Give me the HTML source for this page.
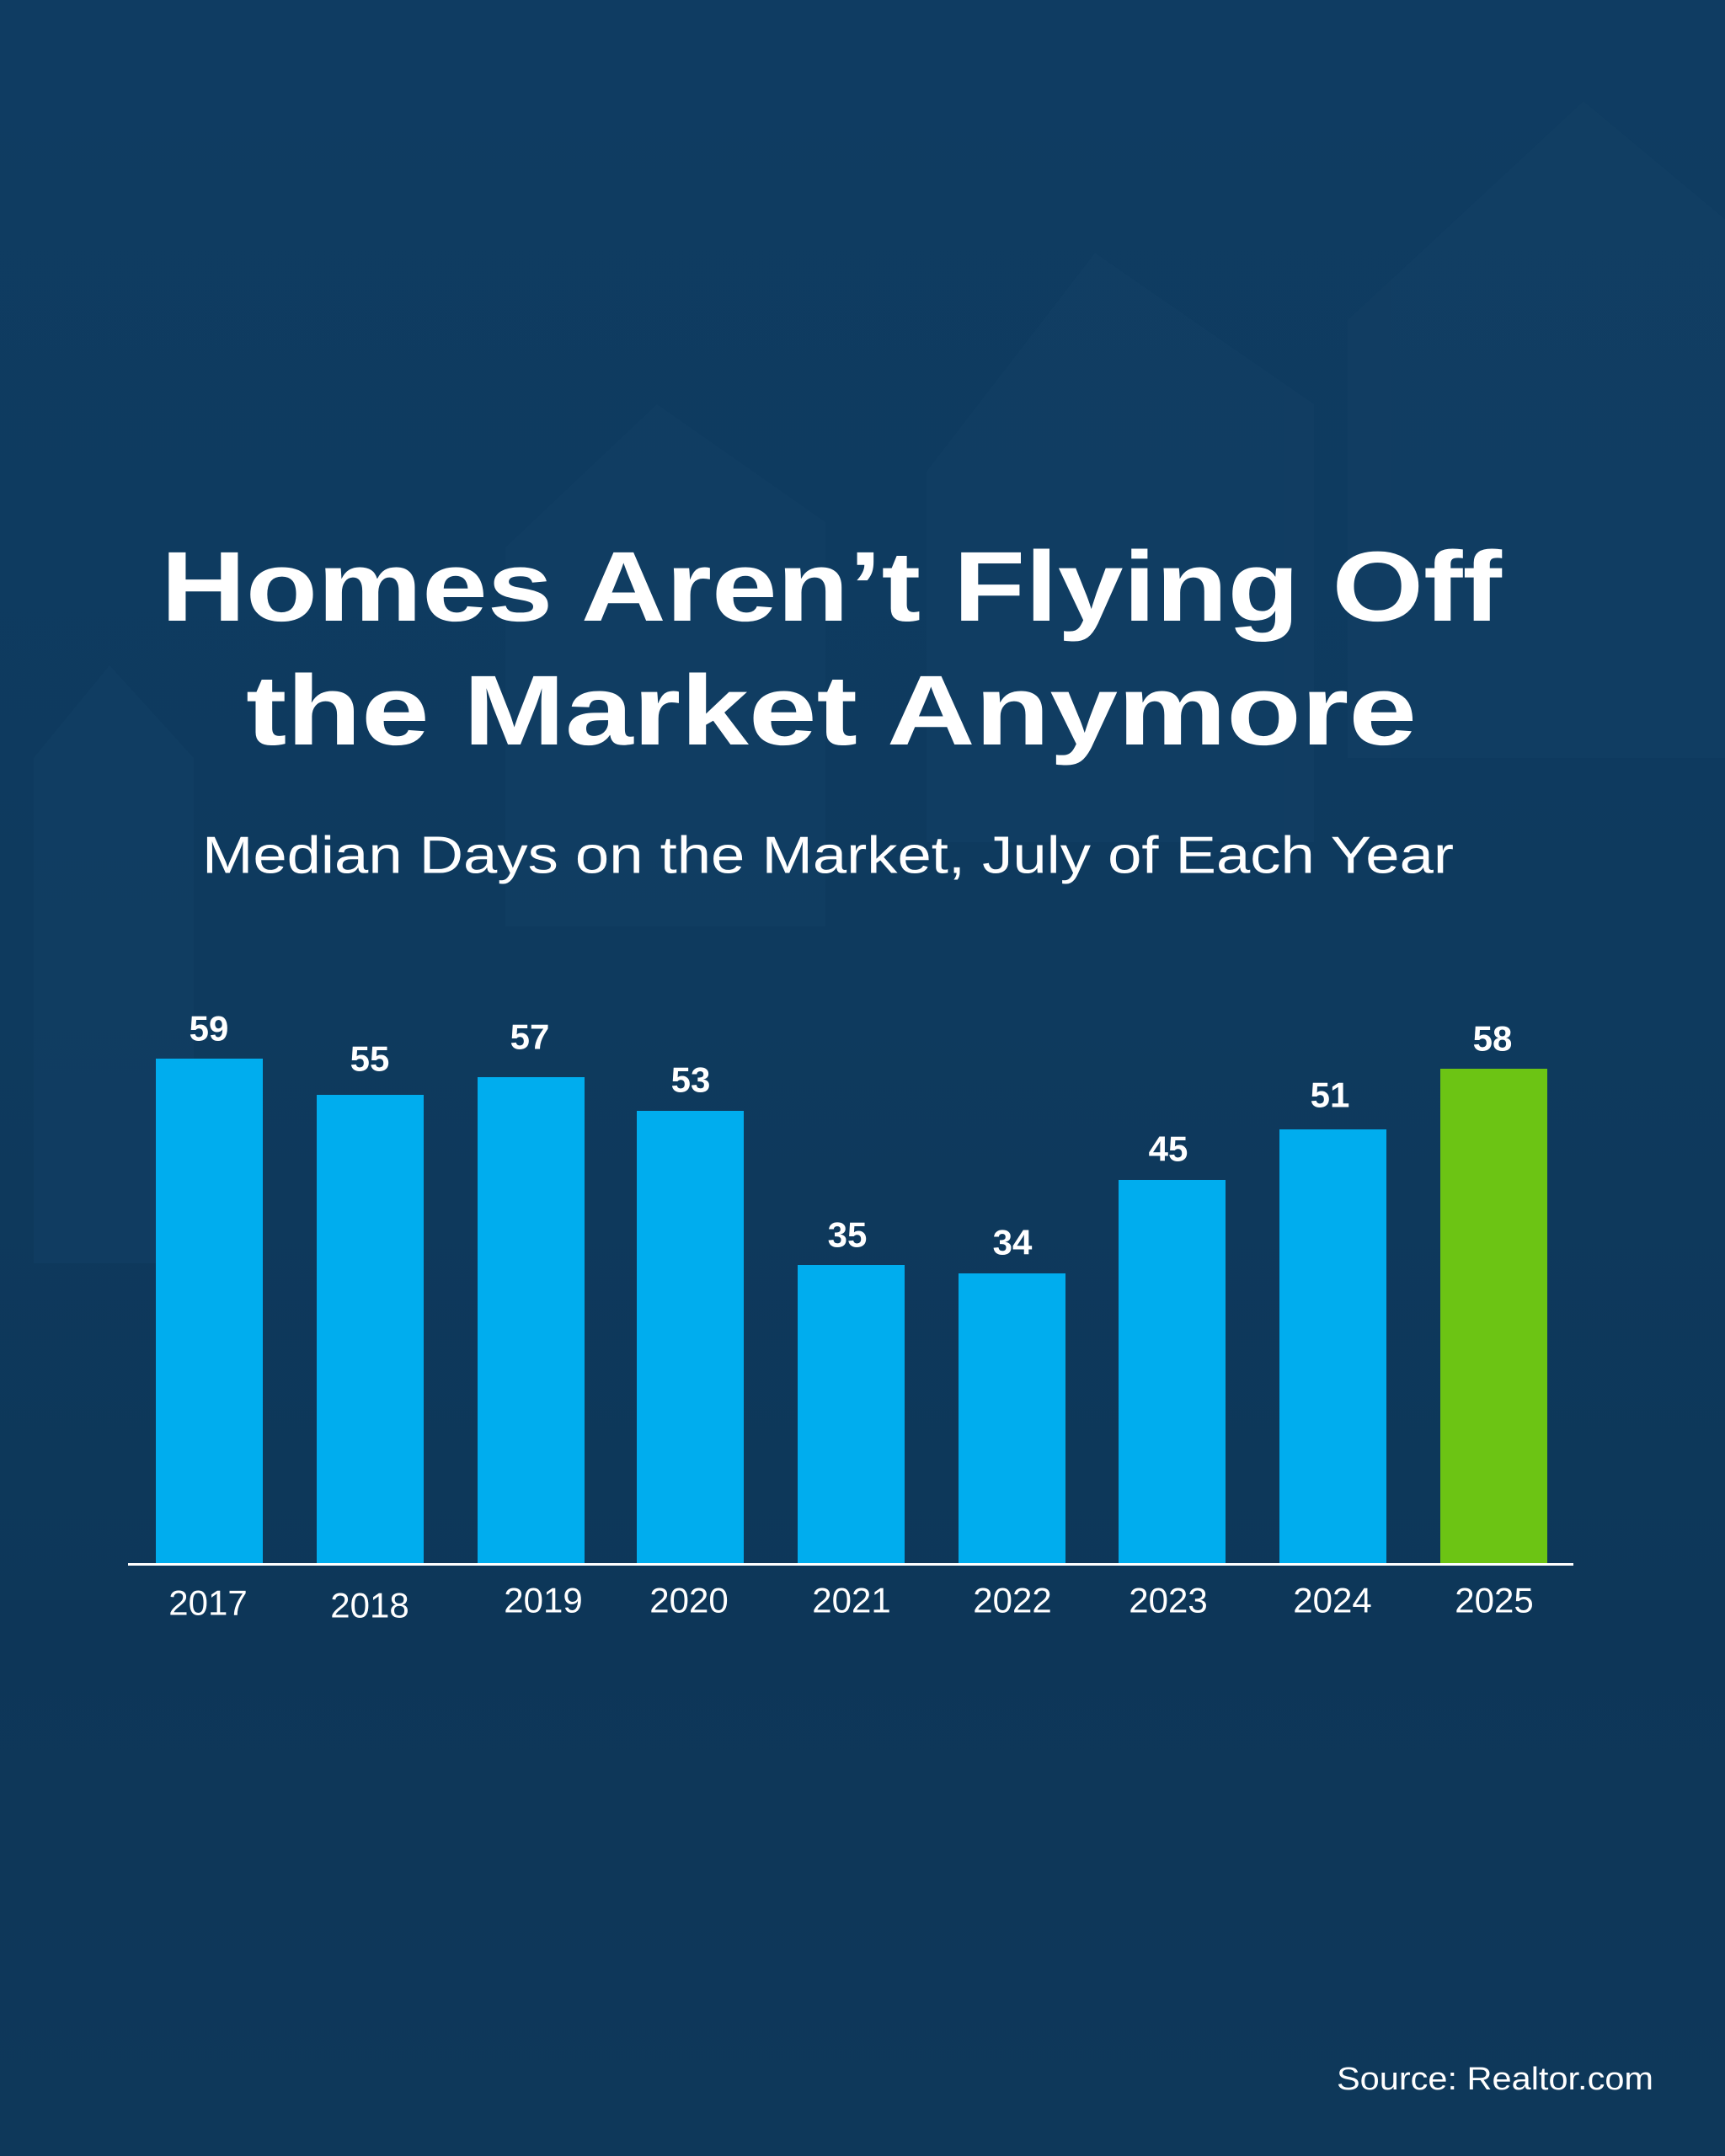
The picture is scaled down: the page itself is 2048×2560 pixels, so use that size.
<!DOCTYPE html>
<html><head><meta charset="utf-8"><style>
html,body{margin:0;padding:0;background:#0e3a5f}
svg{display:block}
text{font-family:"Liberation Sans",sans-serif}
</style></head><body>
<svg width="2048" height="2560" viewBox="0 0 2048 2560" xmlns="http://www.w3.org/2000/svg">
<defs>
<linearGradient id="bg" x1="0" y1="0" x2="0" y2="1">
<stop offset="0" stop-color="#0f3c62"/>
<stop offset="0.45" stop-color="#0e3a5e"/>
<stop offset="0.75" stop-color="#0d3759"/>
<stop offset="1" stop-color="#0f3a5d"/>
</linearGradient>
</defs>
<rect width="2048" height="2560" fill="url(#bg)"/>
<!-- faint house silhouettes -->
<g fill="#133f64" opacity="0.6">
<polygon points="1600,380 1880,120 2048,260 2048,900 1600,900"/>
<polygon points="1100,560 1300,300 1560,480 1560,1000 1100,1000"/>
<polygon points="600,650 780,480 980,620 980,1100 600,1100"/>
<polygon points="40,900 130,790 230,900 230,1500 40,1500"/>
</g>
<rect x="0" y="1900" width="2048" height="660" fill="#0d3658" opacity="0.5"/>
<text x="987" y="697" font-size="118" font-weight="bold" fill="#fff" text-anchor="middle" dominant-baseline="central" textLength="1592" lengthAdjust="spacingAndGlyphs">Homes Aren’t Flying Off</text>
<text x="987" y="844" font-size="118" font-weight="bold" fill="#fff" text-anchor="middle" dominant-baseline="central" textLength="1390" lengthAdjust="spacingAndGlyphs">the Market Anymore</text>
<text x="983" y="1016" font-size="62" fill="#fff" text-anchor="middle" dominant-baseline="central" textLength="1486" lengthAdjust="spacingAndGlyphs">Median Days on the Market, July of Each Year</text>
<g fill="#00adee">
<rect x="185" y="1257" width="127" height="600"/>
<rect x="376" y="1300" width="127" height="557"/>
<rect x="567" y="1279" width="127" height="578"/>
<rect x="756" y="1319" width="127" height="538"/>
<rect x="947" y="1502" width="127" height="355"/>
<rect x="1138" y="1512" width="127" height="345"/>
<rect x="1328" y="1401" width="127" height="456"/>
<rect x="1519" y="1341" width="127" height="516"/>
</g>
<rect x="1710" y="1269" width="127" height="588" fill="#6cc414"/>
<rect x="152" y="1856" width="1716" height="3" fill="#fff"/>
<g font-size="42" font-weight="bold" fill="#fff" text-anchor="middle" dominant-baseline="central">
<text x="248" y="1221">59</text>
<text x="439" y="1257">55</text>
<text x="629" y="1231">57</text>
<text x="820" y="1282">53</text>
<text x="1006" y="1466">35</text>
<text x="1202" y="1475">34</text>
<text x="1387" y="1364">45</text>
<text x="1579" y="1300">51</text>
<text x="1772" y="1233">58</text>
</g>
<g font-size="42" fill="#fff" text-anchor="middle" dominant-baseline="central">
<text x="247" y="1903">2017</text>
<text x="439" y="1906">2018</text>
<text x="645" y="1900">2019</text>
<text x="818" y="1900">2020</text>
<text x="1011" y="1900">2021</text>
<text x="1202" y="1900">2022</text>
<text x="1387" y="1900">2023</text>
<text x="1582" y="1900">2024</text>
<text x="1774" y="1900">2025</text>
</g>
<text x="1775" y="2469" font-size="38" fill="#fff" text-anchor="middle" dominant-baseline="central" textLength="376" lengthAdjust="spacingAndGlyphs">Source: Realtor.com</text>
</svg>
</body></html>
